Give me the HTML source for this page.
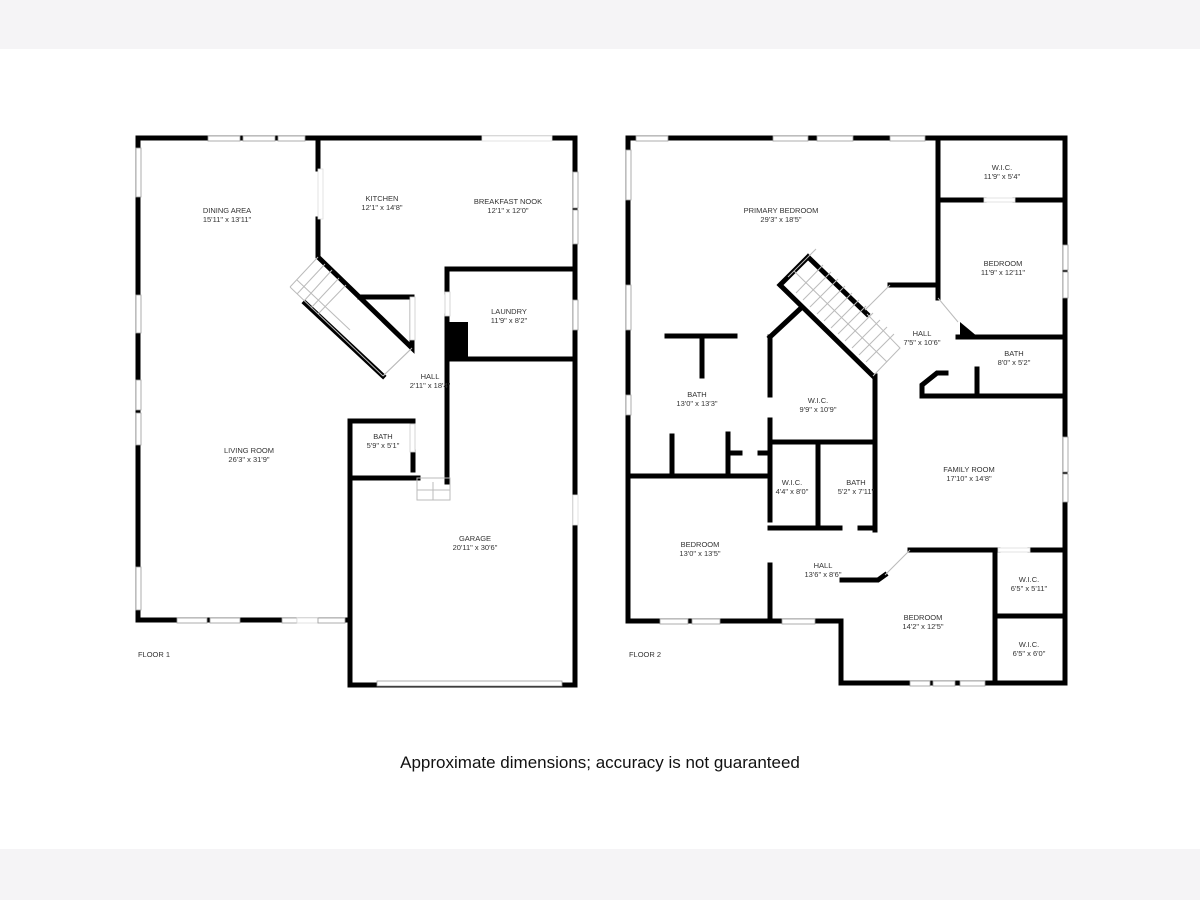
<!DOCTYPE html>
<html><head><meta charset="utf-8"><style>
html,body{margin:0;padding:0;background:#fff}
svg{display:block}
text{font-family:"Liberation Sans",sans-serif;font-size:7.5px;fill:#333;text-anchor:middle}
</style></head><body>
<svg width="1200" height="900" viewBox="0 0 1200 900" xmlns="http://www.w3.org/2000/svg">
<rect x="0" y="0" width="1200" height="49" fill="#f5f4f6"/>
<rect x="0" y="849" width="1200" height="51" fill="#f5f4f6"/>
<g stroke="#000" stroke-width="5" fill="none" stroke-linecap="square">
<!-- FLOOR 1 -->
<path d="M138 138 V620 H350"/>
<path d="M138 138 H575 V685 H350 V421 H413"/>
<path d="M318 138 V169 M318 219 V257 L412 348 V297 H360"/>
<path d="M305 303 L383 376"/>
<path d="M447 269 H575 M447 269 V292 M447 316 V482 M447 359 H575"/>
<path d="M413 452 V470 M350 478 H418"/>
<!-- FLOOR 2 -->
<path d="M628 138 V621 H841 V683 H1065 V138 H628"/>
<path d="M938 138 V298 M938 200 H984 M1015 200 H1065 M958 337 H1065"/>
<path d="M890 285 H938"/>
<path d="M977 369 V394 M922 396 H1065 M922 396 V385 L937 373 H946"/>
<path d="M808 257 L867 314 M780 285 L873 376 M780 285 L808 257"/>
<path d="M770 337 L800 309 M770 337 V395 M770 420 V520 M770 565 V621"/>
<path d="M875 376 V530 M770 442 H875 M770 528 H840 M860 528 H875 M818 442 V528"/>
<path d="M667 336 H735 M702 336 V376 M628 476 H770 M672 436 V476 M728 434 V476 M728 453 H740 M760 453 H770"/>
<path d="M910 550 H998 M1030 550 H1065 M885 575 L878 580 H842"/>
<path d="M995 550 V683 M995 616 H1065"/>
</g>
<!-- laundry block & bedroom triangle -->
<rect x="447" y="322" width="21" height="36" fill="#000"/>
<polygon points="960,322 960,337 978,337" fill="#000"/>
<g stroke="#bbb" stroke-width="1" fill="none">
<!-- stair treads floor1 -->
<path d="M290 287 L318 257 M290 287 L383 376 M383 376 L412 348"/>
<path d="M297 294 L325 264 M304 301 L332 270 M311 308 L339 278 M318 314 L346 285 M297 280 L350 330"/>
<!-- floor2 stairs -->
<path d="M867 314 L900 348 L873 376"/>
<path d="M788 277 L816 249 M796 293 L823 265 M803 300 L831 272 M810 307 L838 279 M817 314 L845 286 M824 321 L852 293 M831 328 L859 300 M838 334 L866 306 M845 341 L873 313 M852 348 L880 320 M859 355 L887 327 M866 362 L894 334 M794 271 L887 362"/>
<path d="M865 310 L890 285 M938 298 L958 322 M910 550 L885 575 M383 376 L410 350"/>
<path d="M417 478 H450 V500 H417 Z M417 490 H450 M433 482 V500"/>
</g>
<!-- windows -->
<g fill="#fff" stroke="#999" stroke-width="0.8">
<rect x="208" y="136" width="32" height="5"/><rect x="243" y="136" width="32" height="5"/><rect x="278" y="136" width="27" height="5"/>
<rect x="482" y="136" width="70" height="5" stroke="#ddd"/>
<rect x="136" y="148" width="5" height="49"/><rect x="136" y="295" width="5" height="38"/><rect x="136" y="380" width="5" height="30"/><rect x="136" y="413" width="5" height="32"/><rect x="136" y="567" width="5" height="43"/>
<rect x="177" y="618" width="30" height="5"/><rect x="210" y="618" width="30" height="5"/><rect x="282" y="618" width="15" height="5"/><rect x="297" y="618" width="21" height="5" stroke="#ddd"/><rect x="318" y="618" width="27" height="5"/>
<rect x="573" y="172" width="5" height="36"/><rect x="573" y="210" width="5" height="34"/><rect x="573" y="300" width="5" height="30"/><rect x="573" y="495" width="5" height="30" stroke="#ddd"/>
<rect x="377" y="681" width="185" height="5"/>
<rect x="318" y="169" width="5" height="50" stroke="#ddd"/>
<rect x="410" y="297" width="5" height="43" stroke="#ccc"/>
<rect x="445" y="292" width="5" height="24" stroke="#ccc"/>
<rect x="410" y="424" width="5" height="28" stroke="#ccc"/>
<!-- floor 2 -->
<rect x="636" y="136" width="32" height="5"/><rect x="773" y="136" width="35" height="5"/><rect x="817" y="136" width="36" height="5"/><rect x="890" y="136" width="35" height="5"/>
<rect x="626" y="150" width="5" height="50"/><rect x="626" y="285" width="5" height="45"/><rect x="626" y="395" width="5" height="20"/>
<rect x="1063" y="245" width="5" height="25"/><rect x="1063" y="272" width="5" height="26"/><rect x="1063" y="437" width="5" height="35"/><rect x="1063" y="474" width="5" height="28"/>
<rect x="660" y="619" width="28" height="5"/><rect x="692" y="619" width="28" height="5"/><rect x="782" y="619" width="33" height="5"/>
<rect x="910" y="681" width="20" height="5"/><rect x="933" y="681" width="22" height="5"/><rect x="960" y="681" width="25" height="5"/>
<rect x="984" y="198" width="31" height="4" stroke="#ddd"/><rect x="998" y="548" width="32" height="4" stroke="#ddd"/>
</g>
<!-- labels floor 1 -->
<text x="227" y="213">DINING AREA</text><text x="227" y="222">15'11" x 13'11"</text>
<text x="382" y="201">KITCHEN</text><text x="382" y="210">12'1" x 14'8"</text>
<text x="508" y="204">BREAKFAST NOOK</text><text x="508" y="213">12'1" x 12'0"</text>
<text x="509" y="314">LAUNDRY</text><text x="509" y="323">11'9" x 8'2"</text>
<text x="430" y="379">HALL</text><text x="430" y="388">2'11" x 18'4"</text>
<text x="383" y="439">BATH</text><text x="383" y="448">5'9" x 5'1"</text>
<text x="249" y="453">LIVING ROOM</text><text x="249" y="462">26'3" x 31'9"</text>
<text x="475" y="541">GARAGE</text><text x="475" y="550">20'11" x 30'6"</text>
<text x="154" y="657" style="font-size:7.5px">FLOOR 1</text>
<!-- labels floor 2 -->
<text x="781" y="213">PRIMARY BEDROOM</text><text x="781" y="222">29'3" x 18'5"</text>
<text x="1002" y="170">W.I.C.</text><text x="1002" y="179">11'9" x 5'4"</text>
<text x="1003" y="266">BEDROOM</text><text x="1003" y="275">11'9" x 12'11"</text>
<text x="922" y="336">HALL</text><text x="922" y="345">7'5" x 10'6"</text>
<text x="1014" y="356">BATH</text><text x="1014" y="365">8'0" x 5'2"</text>
<text x="697" y="397">BATH</text><text x="697" y="406">13'0" x 13'3"</text>
<text x="818" y="403">W.I.C.</text><text x="818" y="412">9'9" x 10'9"</text>
<text x="969" y="472">FAMILY ROOM</text><text x="969" y="481">17'10" x 14'8"</text>
<text x="792" y="485">W.I.C.</text><text x="792" y="494">4'4" x 8'0"</text>
<text x="856" y="485">BATH</text><text x="856" y="494">5'2" x 7'11"</text>
<text x="700" y="547">BEDROOM</text><text x="700" y="556">13'0" x 13'5"</text>
<text x="823" y="568">HALL</text><text x="823" y="577">13'6" x 8'6"</text>
<text x="1029" y="582">W.I.C.</text><text x="1029" y="591">6'5" x 5'11"</text>
<text x="923" y="620">BEDROOM</text><text x="923" y="629">14'2" x 12'5"</text>
<text x="1029" y="647">W.I.C.</text><text x="1029" y="656">6'5" x 6'0"</text>
<text x="645" y="657">FLOOR 2</text>
<text x="600" y="768" style="font-size:17px;fill:#111">Approximate dimensions; accuracy is not guaranteed</text>
</svg>
</body></html>
